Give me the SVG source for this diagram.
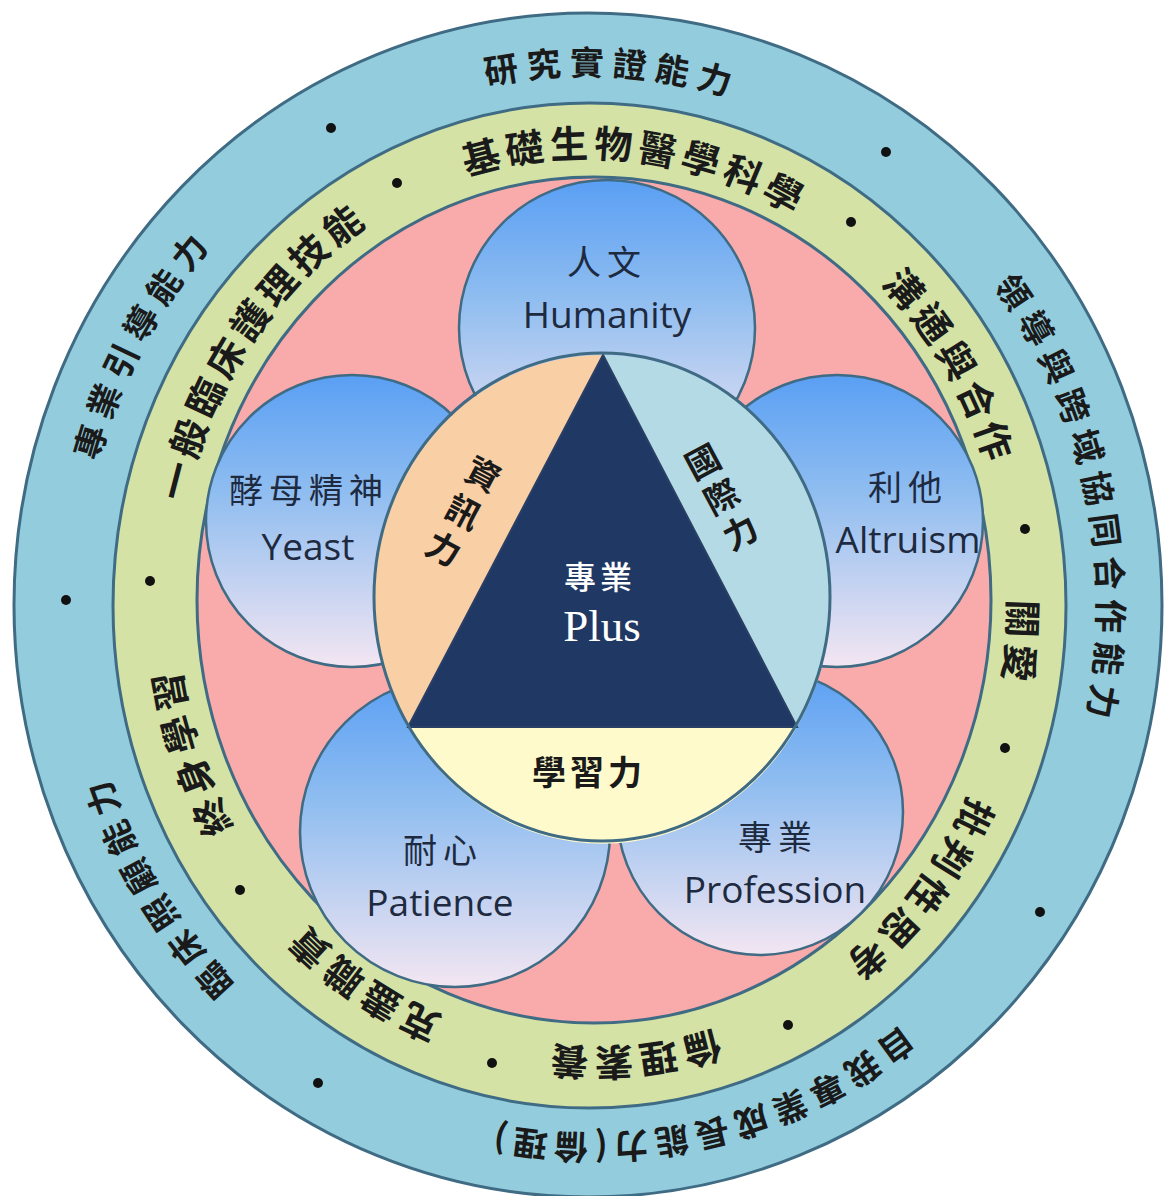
<svg xmlns="http://www.w3.org/2000/svg" xmlns:xlink="http://www.w3.org/1999/xlink" width="1169" height="1196" viewBox="0 0 1169 1196">
<defs>
<style>
.ring{stroke:#3f6b84;stroke-width:3}
.petal{fill:url(#petalGrad);stroke:#3f6b84;stroke-width:2.5}
.outerTxt{font-family:"Noto Sans CJK TC","Noto Sans CJK SC",sans-serif;font-size:34px;font-weight:700;fill:#1a1a1a;letter-spacing:8px}
.greenTxt{font-family:"Noto Sans CJK TC","Noto Sans CJK SC",sans-serif;font-size:38px;font-weight:700;fill:#1a1a1a;letter-spacing:5px}
.cjk{font-family:"Noto Sans CJK TC","Noto Sans CJK SC",sans-serif;font-size:34px;fill:#1e2a40;text-anchor:middle;letter-spacing:6px}
.lat{font-family:"Open Sans","Noto Sans","Liberation Sans",sans-serif;font-size:37px;fill:#1e2a40;text-anchor:middle}
.seg{font-family:"Noto Sans CJK TC","Noto Sans CJK SC",sans-serif;font-size:34px;font-weight:700;fill:#1a1a1a;text-anchor:middle;dominant-baseline:central}
.dot{fill:#111}
</style>
<linearGradient id="petalGrad" x1="0" y1="0" x2="0" y2="1">
<stop offset="0" stop-color="#5a9ff4"/>
<stop offset="0.4" stop-color="#8fbdf0"/>
<stop offset="1" stop-color="#f3e6f2"/>
</linearGradient>
<path id="outerPath" d="M227,228.1 A512,533 0 0 1 951,981.9 A512,533 0 0 1 227,228.1"/>
<path id="greenPath" d="M413.7,197 A422,448 0 0 1 770.3,1009 A422,448 0 0 1 413.7,197"/>
</defs>

<g id="outer-ring">
<ellipse class="ring" cx="588" cy="605" rx="574" ry="592" fill="#93cddd"/>
</g>
<g id="green-ring">
<ellipse class="ring" cx="589.5" cy="605.5" rx="476.5" ry="502.5" fill="#d4e2a6"/>
</g>
<g id="pink-disk">
<ellipse class="ring" cx="594" cy="600" rx="397" ry="423" fill="#f9aaab"/>
</g>

<g id="petal-humanity">
<circle class="petal" cx="607" cy="328" r="148"/>
</g>
<g id="petal-yeast">
<circle class="petal" cx="352" cy="521" r="146"/>
</g>
<g id="petal-altruism">
<circle class="petal" cx="837" cy="521" r="146"/>
</g>
<g id="petal-patience">
<circle class="petal" cx="455" cy="832" r="155"/>
</g>
<g id="petal-profession">
<circle class="petal" cx="760" cy="812" r="143"/>
</g>

<g id="center">
<path d="M603,355 A228,244 0 0 0 408,727 Z" fill="#f9cfa5"/>
<path d="M603,355 A228,244 0 0 1 797,727 Z" fill="#b4dbe5"/>
<path d="M408,727 A228,244 0 0 0 797,727 Z" fill="#fffacc"/>
<polygon points="603,355 408,727 797,727" fill="#1f3864" stroke="#2a3f66" stroke-width="2"/>
<ellipse cx="602" cy="597" rx="228" ry="244" fill="none" stroke="#3f6b84" stroke-width="3"/>
<text x="600" y="589" style="font-family:'Noto Sans CJK TC','Noto Sans CJK SC',sans-serif;font-size:32px;font-weight:500;fill:#ffffff;text-anchor:middle;letter-spacing:4px">專業</text>
<text x="602" y="641" style="font-family:'Liberation Serif',serif;font-size:45px;fill:#ffffff;text-anchor:middle">Plus</text>
<g transform="translate(484,473) rotate(28)">
<text class="seg" x="0" y="0">資</text>
<text class="seg" x="0" y="42">訊</text>
<text class="seg" x="0" y="84">力</text>
</g>
<g transform="translate(702,460) rotate(-28)">
<text class="seg" x="0" y="0">國</text>
<text class="seg" x="0" y="40">際</text>
<text class="seg" x="0" y="80">力</text>
</g>
<text class="seg" x="589" y="770" style="letter-spacing:4px">學習力</text>
</g>

<g id="petal-labels">
<text class="cjk" x="607" y="275">人文</text>
<text class="lat" x="607" y="328">Humanity</text>
<text class="cjk" x="309" y="503">酵母精神</text>
<text class="lat" x="308" y="560">Yeast</text>
<text class="cjk" x="908" y="500">利他</text>
<text class="lat" x="908" y="553">Altruism</text>
<text class="cjk" x="443" y="863">耐心</text>
<text class="lat" x="440" y="916">Patience</text>
<text class="cjk" x="778" y="850">專業</text>
<text class="lat" x="775" y="903">Profession</text>
</g>

<g id="outer-ring-text">
<text class="outerTxt" text-anchor="middle"><textPath href="#outerPath" xlink:href="#outerPath" startOffset="13.06%">研究實證能力</textPath></text>
<text class="outerTxt" text-anchor="middle"><textPath href="#outerPath" xlink:href="#outerPath" startOffset="33.9%">領導與跨域協同合作能力</textPath></text>
<text class="outerTxt" text-anchor="middle" style="letter-spacing:6px"><textPath href="#outerPath" xlink:href="#outerPath" startOffset="58.7%">自我專業成長能力(倫理)</textPath></text>
<text class="outerTxt" text-anchor="middle"><textPath href="#outerPath" xlink:href="#outerPath" startOffset="78.3%">臨床照顧能力</textPath></text>
<text class="outerTxt" text-anchor="middle"><textPath href="#outerPath" xlink:href="#outerPath" startOffset="95.6%">專業引導能力</textPath></text>
</g>

<g id="green-ring-text">
<text class="greenTxt" text-anchor="middle"><textPath href="#greenPath" xlink:href="#greenPath" startOffset="8.44%">基礎生物醫學科學</textPath></text>
<text class="greenTxt" text-anchor="middle"><textPath href="#greenPath" xlink:href="#greenPath" startOffset="22.7%">溝通與合作</textPath></text>
<text class="greenTxt" text-anchor="middle"><textPath href="#greenPath" xlink:href="#greenPath" startOffset="33.17%">關愛</textPath></text>
<text class="greenTxt" text-anchor="middle"><textPath href="#greenPath" xlink:href="#greenPath" startOffset="42.97%">批判性思考</textPath></text>
<text class="greenTxt" text-anchor="middle"><textPath href="#greenPath" xlink:href="#greenPath" startOffset="55.3%">倫理素養</textPath></text>
<text class="greenTxt" text-anchor="middle"><textPath href="#greenPath" xlink:href="#greenPath" startOffset="65.6%">克盡職責</textPath></text>
<text class="greenTxt" text-anchor="middle"><textPath href="#greenPath" xlink:href="#greenPath" startOffset="76.25%">終身學習</textPath></text>
<text class="greenTxt" text-anchor="middle"><textPath href="#greenPath" xlink:href="#greenPath" startOffset="91.8%">一般臨床護理技能</textPath></text>
</g>

<g id="dots">
<circle class="dot" cx="331" cy="128" r="5"/>
<circle class="dot" cx="886" cy="152" r="5"/>
<circle class="dot" cx="1040" cy="912" r="5"/>
<circle class="dot" cx="318" cy="1083" r="5"/>
<circle class="dot" cx="66" cy="600" r="5"/>
<circle class="dot" cx="397" cy="183" r="5"/>
<circle class="dot" cx="851" cy="222" r="5"/>
<circle class="dot" cx="1025" cy="529" r="5"/>
<circle class="dot" cx="1005" cy="748" r="5"/>
<circle class="dot" cx="788" cy="1025" r="5"/>
<circle class="dot" cx="492" cy="1063" r="5"/>
<circle class="dot" cx="240" cy="890" r="5"/>
<circle class="dot" cx="150" cy="581" r="5"/>
</g>
</svg>
